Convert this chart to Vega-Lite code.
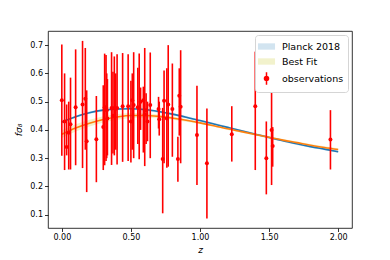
{
  "$schema": "https://vega.github.io/schema/vega-lite/v6.json",
  "width": 304,
  "height": 197,
  "autosize": {"type": "none"},
  "padding": {"left": 48, "top": 31, "right": 38, "bottom": 32},
  "background": "white",
  "config": {
    "font": "DejaVu Sans",
    "view": {"stroke": "#000000", "strokeWidth": 0.8},
    "axis": {
      "domain": false,
      "grid": false,
      "tickColor": "#000000",
      "tickSize": 3.5,
      "tickWidth": 0.8,
      "labelColor": "#000000",
      "labelFontSize": 8,
      "labelFont": "DejaVu Sans",
      "labelPadding": 2,
      "labelOverlap": false,
      "titleFont": "DejaVu Sans",
      "titleFontSize": 9,
      "titleFontWeight": "normal",
      "titleFontStyle": "italic",
      "titleColor": "#000000"
    },
    "axisY": {"labelOverlap": false, "tickCount": 7},
    "axisLeft": {"labelOverlap": false},
    "axisQuantitative": {"labelOverlap": false},
    "legend": {
      "labelFont": "DejaVu Sans",
      "labelFontSize": 9.5,
      "labelColor": "#000000"
    }
  },
  "datasets": {
    "curves": [
      {"series": "Planck 2018", "z": 0.0, "y": 0.428, "lo": 0.424, "hi": 0.432},
      {"series": "Planck 2018", "z": 0.1, "y": 0.447, "lo": 0.443, "hi": 0.451},
      {"series": "Planck 2018", "z": 0.2, "y": 0.461, "lo": 0.457, "hi": 0.465},
      {"series": "Planck 2018", "z": 0.3, "y": 0.470, "lo": 0.466, "hi": 0.474},
      {"series": "Planck 2018", "z": 0.4, "y": 0.474, "lo": 0.470, "hi": 0.478},
      {"series": "Planck 2018", "z": 0.5, "y": 0.475, "lo": 0.471, "hi": 0.479},
      {"series": "Planck 2018", "z": 0.6, "y": 0.472, "lo": 0.468, "hi": 0.476},
      {"series": "Planck 2018", "z": 0.7, "y": 0.465, "lo": 0.461, "hi": 0.469},
      {"series": "Planck 2018", "z": 0.8, "y": 0.456, "lo": 0.452, "hi": 0.460},
      {"series": "Planck 2018", "z": 0.9, "y": 0.445, "lo": 0.441, "hi": 0.449},
      {"series": "Planck 2018", "z": 1.0, "y": 0.433, "lo": 0.429, "hi": 0.437},
      {"series": "Planck 2018", "z": 1.1, "y": 0.421, "lo": 0.417, "hi": 0.425},
      {"series": "Planck 2018", "z": 1.2, "y": 0.409, "lo": 0.405, "hi": 0.413},
      {"series": "Planck 2018", "z": 1.3, "y": 0.397, "lo": 0.393, "hi": 0.401},
      {"series": "Planck 2018", "z": 1.4, "y": 0.385, "lo": 0.381, "hi": 0.389},
      {"series": "Planck 2018", "z": 1.5, "y": 0.373, "lo": 0.369, "hi": 0.377},
      {"series": "Planck 2018", "z": 1.6, "y": 0.362, "lo": 0.358, "hi": 0.366},
      {"series": "Planck 2018", "z": 1.7, "y": 0.351, "lo": 0.347, "hi": 0.355},
      {"series": "Planck 2018", "z": 1.8, "y": 0.341, "lo": 0.337, "hi": 0.345},
      {"series": "Planck 2018", "z": 1.9, "y": 0.332, "lo": 0.328, "hi": 0.336},
      {"series": "Planck 2018", "z": 2.0, "y": 0.323, "lo": 0.319, "hi": 0.327},
      {"series": "Best Fit", "z": 0.0, "y": 0.385, "lo": 0.371, "hi": 0.399},
      {"series": "Best Fit", "z": 0.1, "y": 0.407, "lo": 0.394, "hi": 0.420},
      {"series": "Best Fit", "z": 0.2, "y": 0.424, "lo": 0.412, "hi": 0.436},
      {"series": "Best Fit", "z": 0.3, "y": 0.437, "lo": 0.426, "hi": 0.448},
      {"series": "Best Fit", "z": 0.4, "y": 0.446, "lo": 0.436, "hi": 0.456},
      {"series": "Best Fit", "z": 0.5, "y": 0.451, "lo": 0.442, "hi": 0.460},
      {"series": "Best Fit", "z": 0.6, "y": 0.451, "lo": 0.443, "hi": 0.459},
      {"series": "Best Fit", "z": 0.7, "y": 0.448, "lo": 0.441, "hi": 0.455},
      {"series": "Best Fit", "z": 0.8, "y": 0.442, "lo": 0.436, "hi": 0.448},
      {"series": "Best Fit", "z": 0.9, "y": 0.434, "lo": 0.429, "hi": 0.439},
      {"series": "Best Fit", "z": 1.0, "y": 0.425, "lo": 0.421, "hi": 0.429},
      {"series": "Best Fit", "z": 1.1, "y": 0.415, "lo": 0.411, "hi": 0.419},
      {"series": "Best Fit", "z": 1.2, "y": 0.404, "lo": 0.400, "hi": 0.408},
      {"series": "Best Fit", "z": 1.3, "y": 0.394, "lo": 0.390, "hi": 0.398},
      {"series": "Best Fit", "z": 1.4, "y": 0.384, "lo": 0.380, "hi": 0.388},
      {"series": "Best Fit", "z": 1.5, "y": 0.374, "lo": 0.370, "hi": 0.378},
      {"series": "Best Fit", "z": 1.6, "y": 0.364, "lo": 0.360, "hi": 0.368},
      {"series": "Best Fit", "z": 1.7, "y": 0.355, "lo": 0.351, "hi": 0.359},
      {"series": "Best Fit", "z": 1.8, "y": 0.346, "lo": 0.342, "hi": 0.350},
      {"series": "Best Fit", "z": 1.9, "y": 0.338, "lo": 0.334, "hi": 0.342},
      {"series": "Best Fit", "z": 2.0, "y": 0.331, "lo": 0.327, "hi": 0.335}
    ],
    "obs": [
      {"z": 0.00, "f": 0.505, "lo": 0.309, "hi": 0.702},
      {"z": 0.02, "f": 0.430, "lo": 0.258, "hi": 0.600},
      {"z": 0.035, "f": 0.340, "lo": 0.310, "hi": 0.490},
      {"z": 0.05, "f": 0.390, "lo": 0.260, "hi": 0.500},
      {"z": 0.063, "f": 0.420, "lo": 0.260, "hi": 0.585},
      {"z": 0.10, "f": 0.480, "lo": 0.275, "hi": 0.685},
      {"z": 0.15, "f": 0.490, "lo": 0.265, "hi": 0.715},
      {"z": 0.17, "f": 0.510, "lo": 0.330, "hi": 0.690},
      {"z": 0.18, "f": 0.360, "lo": 0.180, "hi": 0.540},
      {"z": 0.25, "f": 0.367, "lo": 0.215, "hi": 0.520},
      {"z": 0.30, "f": 0.410, "lo": 0.258, "hi": 0.558},
      {"z": 0.31, "f": 0.480, "lo": 0.275, "hi": 0.670},
      {"z": 0.32, "f": 0.480, "lo": 0.290, "hi": 0.665},
      {"z": 0.325, "f": 0.470, "lo": 0.300, "hi": 0.600},
      {"z": 0.33, "f": 0.440, "lo": 0.310, "hi": 0.580},
      {"z": 0.36, "f": 0.478, "lo": 0.276, "hi": 0.675},
      {"z": 0.37, "f": 0.450, "lo": 0.317, "hi": 0.606},
      {"z": 0.38, "f": 0.478, "lo": 0.310, "hi": 0.660},
      {"z": 0.39, "f": 0.475, "lo": 0.330, "hi": 0.600},
      {"z": 0.40, "f": 0.478, "lo": 0.278, "hi": 0.668},
      {"z": 0.44, "f": 0.484, "lo": 0.287, "hi": 0.672},
      {"z": 0.48, "f": 0.484, "lo": 0.290, "hi": 0.668},
      {"z": 0.50, "f": 0.430, "lo": 0.285, "hi": 0.574},
      {"z": 0.51, "f": 0.505, "lo": 0.330, "hi": 0.600},
      {"z": 0.52, "f": 0.488, "lo": 0.300, "hi": 0.675},
      {"z": 0.55, "f": 0.480, "lo": 0.350, "hi": 0.620},
      {"z": 0.56, "f": 0.478, "lo": 0.296, "hi": 0.670},
      {"z": 0.57, "f": 0.500, "lo": 0.400, "hi": 0.550},
      {"z": 0.59, "f": 0.505, "lo": 0.320, "hi": 0.553},
      {"z": 0.60, "f": 0.455, "lo": 0.272, "hi": 0.690},
      {"z": 0.61, "f": 0.470, "lo": 0.350, "hi": 0.530},
      {"z": 0.62, "f": 0.430, "lo": 0.360, "hi": 0.500},
      {"z": 0.64, "f": 0.488, "lo": 0.300, "hi": 0.674},
      {"z": 0.70, "f": 0.474, "lo": 0.405, "hi": 0.517},
      {"z": 0.705, "f": 0.438, "lo": 0.380, "hi": 0.500},
      {"z": 0.73, "f": 0.297, "lo": 0.105, "hi": 0.478},
      {"z": 0.74, "f": 0.503, "lo": 0.282, "hi": 0.610},
      {"z": 0.76, "f": 0.440, "lo": 0.266, "hi": 0.618},
      {"z": 0.77, "f": 0.490, "lo": 0.270, "hi": 0.700},
      {"z": 0.80, "f": 0.474, "lo": 0.305, "hi": 0.635},
      {"z": 0.84, "f": 0.297, "lo": 0.217, "hi": 0.376},
      {"z": 0.85, "f": 0.521, "lo": 0.380, "hi": 0.618},
      {"z": 0.86, "f": 0.482, "lo": 0.282, "hi": 0.682},
      {"z": 0.978, "f": 0.382, "lo": 0.205, "hi": 0.556},
      {"z": 1.05, "f": 0.282, "lo": 0.087, "hi": 0.476},
      {"z": 1.23, "f": 0.385, "lo": 0.288, "hi": 0.484},
      {"z": 1.40, "f": 0.484, "lo": 0.258, "hi": 0.677},
      {"z": 1.48, "f": 0.300, "lo": 0.172, "hi": 0.430},
      {"z": 1.518, "f": 0.400, "lo": 0.205, "hi": 0.582},
      {"z": 1.526, "f": 0.343, "lo": 0.270, "hi": 0.410},
      {"z": 1.944, "f": 0.366, "lo": 0.260, "hi": 0.470}
    ]
  },
  "layer": [
    {
      "data": {"name": "curves"},
      "mark": {"type": "area", "opacity": 1},
      "encoding": {
        "x": {"field": "z", "type": "quantitative", "scale": {"domain": [-0.1, 2.1], "nice": false, "zero": false},
              "axis": {"values": [0, 0.25, 0.5, 0.75, 1, 1.25, 1.5, 1.75, 2], "format": ".2f", "title": "z", "labelOverlap": false}},
        "y": {"field": "lo", "type": "quantitative", "scale": {"domain": [0.053, 0.75], "nice": false, "zero": false},
              "axis": {"values": [0.1, 0.2, 0.3, 0.4, 0.5, 0.6, 0.7], "format": ".1f", "title": "fσ₈", "titlePadding": 6, "labelOverlap": false}},
        "y2": {"field": "hi"},
        "fill": {
          "field": "series", "type": "nominal",
          "scale": {"domain": ["Planck 2018", "Best Fit", "observations"], "range": ["#d2e4f0", "#f2f2cc", "#ff0000"]},
          "legend": {
            "title": null,
            "orient": "top-right",
            "offset": 4,
            "padding": 4,
            "fillColor": "#ffffff",
            "strokeColor": "#d5d5d5",
            "cornerRadius": 3,
            "symbolSize": 160,
            "symbolType": "M-1.35,-0.5H1.35V0.5H-1.35Z",
            "labelOffset": 8,
            "rowPadding": 1,
            "encoding": {
              "symbols": {
                "shape": {"value": {"expr": "datum.label === 'observations' ? 'M0,-1V1M-0.32,0A0.32,0.32 0 1,0 0.32,0A0.32,0.32 0 1,0 -0.32,0' : 'M-1.35,-0.5H1.35V0.5H-1.35Z'"}},
                "stroke": {"value": {"expr": "datum.label === 'observations' ? '#ff0000' : 'transparent'"}},
                "strokeWidth": {"value": 1.5},
                "opacity": {"value": 1}
              }
            }
          }
        }
      }
    },
    {
      "data": {"name": "curves"},
      "mark": {"type": "line", "strokeWidth": 1.6, "interpolate": "monotone"},
      "encoding": {
        "x": {"field": "z", "type": "quantitative"},
        "y": {"field": "y", "type": "quantitative", "axis": {"values": [0.1, 0.2, 0.3, 0.4, 0.5, 0.6, 0.7], "format": ".1f", "title": "fσ₈", "titlePadding": 6, "labelOverlap": false}},
        "stroke": {
          "field": "series", "type": "nominal",
          "scale": {"domain": ["Planck 2018", "Best Fit"], "range": ["#1f77b4", "#ff7f0e"]},
          "legend": null
        }
      }
    },
    {
      "data": {"name": "obs"},
      "mark": {"type": "rule", "color": "#ff0000", "strokeWidth": 1.6},
      "encoding": {
        "x": {"field": "z", "type": "quantitative"},
        "y": {"field": "lo", "type": "quantitative", "axis": {"values": [0.1, 0.2, 0.3, 0.4, 0.5, 0.6, 0.7], "format": ".1f", "title": "fσ₈", "titlePadding": 6, "labelOverlap": false}},
        "y2": {"field": "hi"}
      }
    },
    {
      "data": {"name": "obs"},
      "mark": {"type": "point", "filled": true, "size": 16, "opacity": 1, "strokeWidth": 0},
      "encoding": {
        "x": {"field": "z", "type": "quantitative"},
        "y": {"field": "f", "type": "quantitative", "axis": {"values": [0.1, 0.2, 0.3, 0.4, 0.5, 0.6, 0.7], "format": ".1f", "title": "fσ₈", "titlePadding": 6, "labelOverlap": false}},
        "fill": {"datum": "observations"}
      }
    }
  ]
}
